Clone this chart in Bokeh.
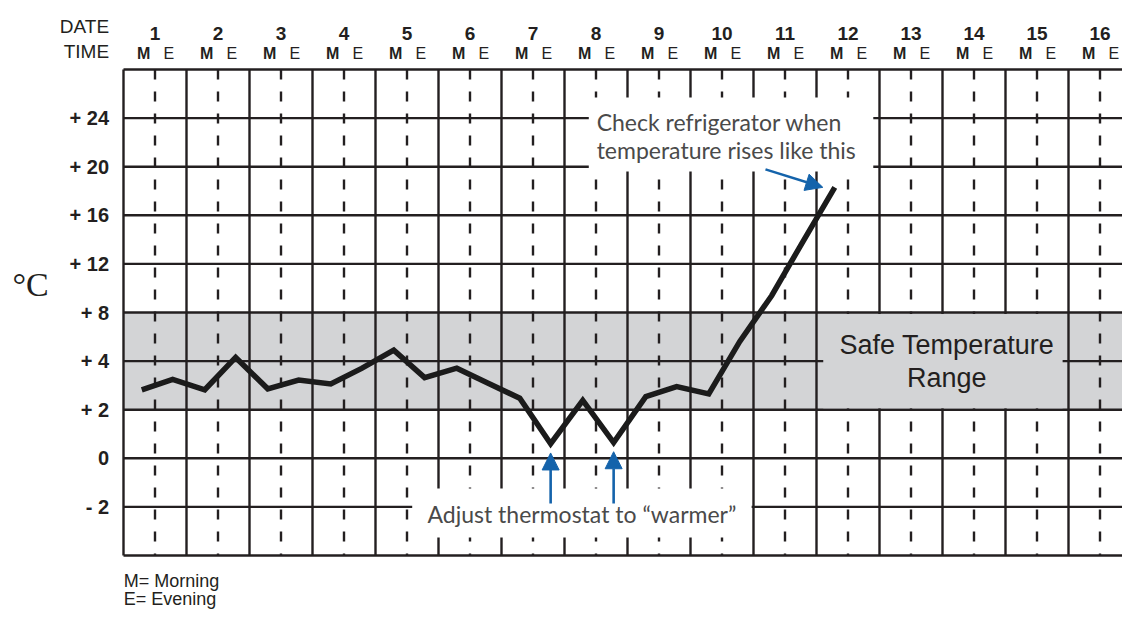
import numpy as np
from bokeh.plotting import figure
from bokeh.models import Range1d, Arrow, NormalHead
from bokeh.core.properties import value
from bokeh.embed import file_html
from bokeh.resources import INLINE

# ---------------- data ----------------
days = list(range(1, 17))
day_labels = [str(d) for d in days]
time_labels = ["M", "E"]

# chart paper rows (non-linear temperature scale), bottom to top
row_temps = [-4, -2, 0, 2, 4, 8, 12, 16, 20, 24, 28]
y_tick_temps = [-2, 0, 2, 4, 8, 12, 16, 20, 24]
y_tick_labels = ["- 2", "0", "+ 2", "+ 4", "+ 8", "+ 12", "+ 16", "+ 20", "+ 24"]

reading_day = [1, 1, 2, 2, 3, 3, 4, 4, 5, 5, 6, 6, 7, 7, 8, 8, 9, 9, 10, 10, 11, 11, 12]
reading_time = ["M", "E", "M", "E", "M", "E", "M", "E", "M", "E", "M", "E",
                "M", "E", "M", "E", "M", "E", "M", "E", "M", "E", "M"]
reading_temp = [2.82, 3.25, 2.82, 4.3, 2.86, 3.22, 3.06, 3.7, 4.9, 3.32, 3.71, 3.1,
                2.47, 0.6, 2.38, 0.65, 2.54, 2.95, 2.65, 5.6, 9.4, 13.8, 18.3]

safe_low, safe_high = 2, 8

# ---------------- styling / layout ----------------
INK = "#231f20"
GREY = "#d3d4d6"
BLUE = "#1463ab"
NOTE = "#4a4a4a"
SANS = "Liberation Sans"

W, H = 1122, 610
COL_PX = 63.0          # pixels per day column on the canvas
ROW_PX = 48.6          # pixels per chart-paper row
LEFT_PX, BOTTOM_PX = 123.0, 555.0   # grid origin on the canvas (from top-left)

slot_offset = {"M": 0.29, "E": 0.78}
label_offset = {"M": 0.32, "E": 0.72}


def row(t):
    return float(np.interp(t, row_temps, np.arange(len(row_temps))))


# reference-image pixel -> data units (used only to place notes and texts)
def X(px):
    return (px - 122.7) / 64.22


def Y(py):
    return (BOTTOM_PX - py) / ROW_PX


x0, x1 = -LEFT_PX / COL_PX, (W - LEFT_PX) / COL_PX
y0, y1 = (BOTTOM_PX - H) / ROW_PX, BOTTOM_PX / ROW_PX
nrows = len(row_temps) - 1

xs = [d - 1 + slot_offset[t] for d, t in zip(reading_day, reading_time)]
ys = [row(t) for t in reading_temp]

p = figure(width=W, height=H, output_backend="svg", toolbar_location=None,
           x_range=Range1d(x0, x1), y_range=Range1d(y0, y1),
           x_axis_location=None, y_axis_location=None,
           min_border=0, min_border_left=0, min_border_right=0,
           min_border_top=0, min_border_bottom=0)
p.outline_line_color = None
p.grid.visible = False
p.background_fill_color = "white"
p.border_fill_color = "white"

# safe band
p.quad(left=0, right=x1, bottom=row(safe_low), top=row(safe_high),
       fill_color=GREY, line_color=None)

# grid of the chart paper
hy = list(range(nrows + 1))
p.segment(x0=[0] * len(hy), x1=[x1] * len(hy), y0=hy, y1=hy, line_color=INK, line_width=2.4)
vx = list(range(0, 16))
p.segment(x0=vx, x1=vx, y0=[nrows] * len(vx), y1=[0] * len(vx), line_color=INK, line_width=2.4)
dxs = [d - 0.5 for d in days]
p.segment(x0=dxs, x1=dxs, y0=[nrows] * len(dxs), y1=[0] * len(dxs), line_color=INK,
          line_width=2.4, line_dash="10 12")

# annotation boxes (cover the grid)
p.quad(left=[X(597), X(417)], right=[X(887), X(763)], bottom=[Y(171), Y(537)], top=[Y(97), Y(488)],
       fill_color="white", line_color=None)
p.quad(left=X(836), right=X(1080), bottom=row(safe_low) + 0.03, top=row(safe_high) - 0.03,
       fill_color=GREY, line_color=None)

# readings
p.line(xs, ys, line_color="#1b1b1b", line_width=5.5, line_join="miter")

# arrows
last_x, last_y = xs[-1], ys[-1]
p.add_layout(Arrow(end=NormalHead(size=17, fill_color=BLUE, line_color=BLUE),
                   x_start=last_x - 1.1, y_start=last_y + 0.37, x_end=last_x - 0.19, y_end=last_y,
                   line_color=BLUE, line_width=2.6))
for i, (t, tm) in enumerate(zip(reading_temp, reading_time)):
    if tm == "E" and t < safe_low:
        p.add_layout(Arrow(end=NormalHead(size=17, fill_color=BLUE, line_color=BLUE),
                           x_start=xs[i], y_start=Y(503), x_end=xs[i], y_end=ys[i] - 0.19,
                           line_color=BLUE, line_width=2.6))


def txt(x, y, text, size, font=SANS, style="normal", align="left", color=INK):
    p.text(x=x, y=y, text=text, text_font=value(font), text_font_size=value(size),
           text_font_style=value(style), text_align=value(align), text_baseline=value("middle"),
           text_color=color)


# tick labels
txt([X(108)] * len(y_tick_temps), [row(t) for t in y_tick_temps], y_tick_labels, "20px",
    style="bold", align="right")
txt([d - 0.5 for d in days], [Y(32.5)] * len(days), day_labels, "19px", style="bold", align="center")
txt([d - 1 + label_offset["M"] for d in days], [Y(53)] * len(days), ["M"] * len(days), "16px",
    style="bold", align="center")
txt([d - 1 + label_offset["E"] for d in days], [Y(53)] * len(days), ["E"] * len(days), "16px",
    align="center")

# header and axis name
txt([X(108)], [Y(25.5)], ["DATE"], "19px", align="right")
txt([X(108)], [Y(51)], ["TIME"], "19px", align="right")
txt([X(28)], [Y(284)], ["°C"], "34px", font="Liberation Serif", align="center")

# notes
txt([X(605)], [Y(121)], ["Check refrigerator when"], "23px", font="Lato", color=NOTE)
txt([X(605)], [Y(149)], ["temperature rises like this"], "23px", font="Lato", color=NOTE)
txt([X(590)], [Y(513)], ["Adjust thermostat to \u201cwarmer\u201d"], "23px", font="Lato",
    align="center", color=NOTE)
txt([X(962)], [Y(344)], ["Safe Temperature"], "27px", align="center")
txt([X(962)], [Y(377)], ["Range"], "27px", align="center")

# footer legend
txt([X(123)], [Y(580)], ["M= Morning"], "18px")
txt([X(123)], [Y(598)], ["E= Evening"], "18px")

open("out.html", "w").write(file_html(p, INLINE))
